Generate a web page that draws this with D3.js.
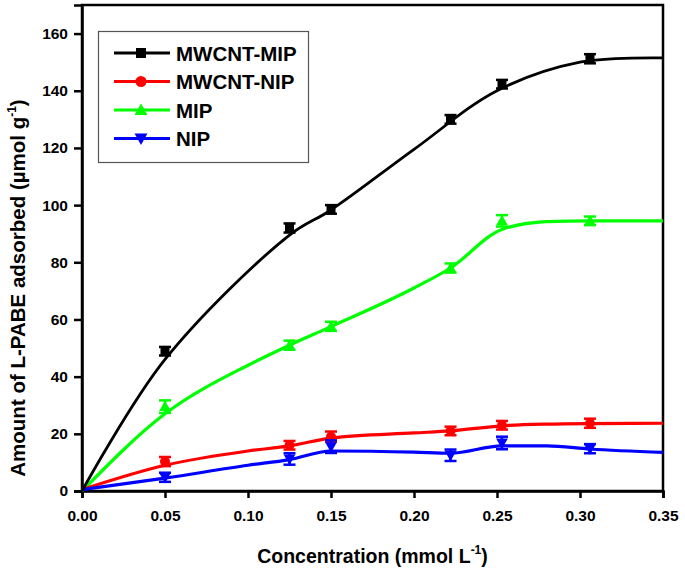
<!DOCTYPE html>
<html><head><meta charset="utf-8">
<script src="https://cdn.jsdelivr.net/npm/d3@7"></script>
<style>body{margin:0;background:#fff}</style>
</head><body>
<svg id="c" width="685" height="574"></svg>
<script>
// ---- data ----
const concX = [0.05, 0.125, 0.15, 0.222, 0.253, 0.306];
const mwcntMip = [48.9, 92.0, 98.5, 130.0, 142.3, 151.2];
const mwcntMipErr = [1.5, 1.6, 1.5, 1.5, 1.5, 1.6];
const mwcntNip = [10.3, 16.0, 19.0, 21.0, 23.0, 23.7];
const mwcntNipErr = [1.6, 1.5, 1.8, 1.5, 1.5, 1.6];
const mip = [29.5, 51.0, 57.6, 78.0, 94.5, 94.5];
const mipErr = [2.2, 1.6, 1.6, 1.6, 2.0, 1.5];
const nip = [4.8, 11.2, 15.5, 12.5, 16.8, 14.8];
const nipErr = [1.6, 2.0, 2.2, 2.0, 2.2, 1.6];

const fitBlackX = [0, 0.05, 0.125, 0.15, 0.2, 0.25, 0.3, 0.35];
const fitMwcntMip = [0, 46, 89.5, 98.3, 119.5, 140, 150, 151.5];
const fitX = [0, 0.05, 0.1, 0.125, 0.15, 0.2, 0.222, 0.253, 0.28, 0.306, 0.35];
const fitMip = [0, 27, 44, 51, 57.5, 71, 78, 91.5, 94.2, 94.5, 94.5];
const fitMwcntNip = [0.5, 9, 14, 15.8, 18.5, 20.3, 21, 22.8, 23.4, 23.6, 23.7];
const fitNip = [0.5, 4.5, 9, 11, 14, 13.6, 13.2, 15.8, 15.8, 14.7, 13.5];

const xTicks = [0, 0.05, 0.10, 0.15, 0.20, 0.25, 0.30, 0.35];
const yTicks = [0, 20, 40, 60, 80, 100, 120, 140, 160];
const seriesNames = ["MWCNT-MIP", "MWCNT-NIP", "MIP", "NIP"];
const seriesColors = ["#000000", "#ff0000", "#00ff00", "#0000ff"];
const seriesMarkers = ["square", "circle", "triangle", "down"];

// ---- layout ----
const svg = d3.select("#c");
const L = 82, R = 663, T = 5, B = 491;
const x = d3.scaleLinear().domain([0, 0.35]).range([L, R]);
const y = d3.scaleLinear().domain([0, 170]).range([B, T]);
const font = "Arial, 'Liberation Sans', sans-serif";

svg.append("rect").attr("x", L).attr("y", T).attr("width", R - L).attr("height", B - T)
  .attr("fill", "none").attr("stroke", "#000").attr("stroke-width", 2.5);

const xa = svg.append("g").attr("transform", `translate(0,${B})`)
  .call(d3.axisBottom(x).tickValues(xTicks).tickFormat(d3.format(".2f")).tickSize(7).tickPadding(8));
const ya = svg.append("g").attr("transform", `translate(${L},0)`)
  .call(d3.axisLeft(y).tickValues(yTicks).tickFormat(d3.format("d")).tickSize(8).tickPadding(6));
[xa, ya].forEach(a => {
  a.select(".domain").attr("stroke", "#000").attr("stroke-width", 2.5);
  a.selectAll(".tick line").attr("stroke", "#000").attr("stroke-width", 2.5);
  a.selectAll(".tick text").attr("font-family", font).attr("font-weight", "bold")
    .attr("font-size", 15.5).attr("fill", "#000");
});
xa.selectAll(".tick text").attr("dy", "0.95em");

const sets = [
  {pts: mwcntMip, err: mwcntMipErr, fx: fitBlackX, fit: fitMwcntMip, curve: d3.curveCatmullRom.alpha(0.5)},
  {pts: mwcntNip, err: mwcntNipErr, fx: fitX, fit: fitMwcntNip, curve: d3.curveMonotoneX},
  {pts: mip, err: mipErr, fx: fitX, fit: fitMip, curve: d3.curveMonotoneX},
  {pts: nip, err: nipErr, fx: fitX, fit: fitNip, curve: d3.curveMonotoneX}
];

function marker(g, type, cx, cy, color, s) {
  if (type === "square") {
    g.append("rect").attr("x", cx - s/2).attr("y", cy - s/2).attr("width", s).attr("height", s).attr("fill", color);
  } else if (type === "circle") {
    g.append("circle").attr("cx", cx).attr("cy", cy).attr("r", s/2 + 0.5).attr("fill", color);
  } else if (type === "triangle") {
    const h = s * 1.1;
    g.append("path").attr("d", `M${cx},${cy - h*0.6}L${cx + s*0.65},${cy + h*0.45}L${cx - s*0.65},${cy + h*0.45}Z`).attr("fill", color);
  } else {
    const h = s * 1.1;
    g.append("path").attr("d", `M${cx},${cy + h*0.6}L${cx + s*0.65},${cy - h*0.45}L${cx - s*0.65},${cy - h*0.45}Z`).attr("fill", color);
  }
}

[2, 1, 3, 0].forEach(i => {
  const s = sets[i], col = seriesColors[i];
  const g = svg.append("g");
  const line = d3.line().x(d => x(d[0])).y(d => y(d[1])).curve(s.curve);
  g.append("path").datum(s.fx.map((v, k) => [v, s.fit[k]]))
    .attr("d", line).attr("fill", "none").attr("stroke", col)
    .attr("stroke-width", i === 0 ? 2.8 : 3.2).attr("stroke-linejoin", "round");
  concX.forEach((cxv, k) => {
    const px = x(cxv), py = y(s.pts[k]);
    const y1 = y(s.pts[k] + s.err[k]), y2 = y(s.pts[k] - s.err[k]);
    g.append("line").attr("x1", px).attr("x2", px).attr("y1", y1).attr("y2", y2).attr("stroke", col).attr("stroke-width", 2.5);
    [y1, y2].forEach(yy => g.append("line").attr("x1", px - 6).attr("x2", px + 6).attr("y1", yy).attr("y2", yy)
      .attr("stroke", col).attr("stroke-width", 2.5));
    marker(g, seriesMarkers[i], px, py, col, 9);
  });
});

const lg = svg.append("g");
lg.append("rect").attr("x", 98.5).attr("y", 31.5).attr("width", 210).attr("height", 131)
  .attr("fill", "#fff").attr("stroke", "#555").attr("stroke-width", 1.2);
seriesNames.forEach((n, i) => {
  const yy = 53 + i * 28.5;
  lg.append("line").attr("x1", 114).attr("x2", 170).attr("y1", yy).attr("y2", yy)
    .attr("stroke", seriesColors[i]).attr("stroke-width", 3.2);
  marker(lg, seriesMarkers[i], 141, yy, seriesColors[i], 10);
  lg.append("text").attr("x", 176).attr("y", yy + 7.5).text(n)
    .attr("font-family", font).attr("font-weight", "bold").attr("font-size", 20.5).attr("fill", "#000");
});

const xt = svg.append("text").attr("x", (L + R) / 2).attr("y", 563).attr("text-anchor", "middle")
  .attr("font-family", font).attr("font-weight", "bold").attr("font-size", 19.5).attr("fill", "#000");
xt.append("tspan").text("Concentration (mmol L");
xt.append("tspan").text("-1").attr("font-size", 12).attr("dy", -9);
xt.append("tspan").text(")").attr("dy", 9);

const yt = svg.append("text").attr("transform", `translate(25,288) rotate(-90)`)
  .attr("text-anchor", "middle")
  .attr("font-family", font).attr("font-weight", "bold").attr("font-size", 20.5).attr("fill", "#000");
yt.append("tspan").text("Amount of L-PABE adsorbed (µmol g");
yt.append("tspan").text("-1").attr("font-size", 12).attr("dy", -9);
yt.append("tspan").text(")").attr("dy", 9);
</script>
</body></html>
